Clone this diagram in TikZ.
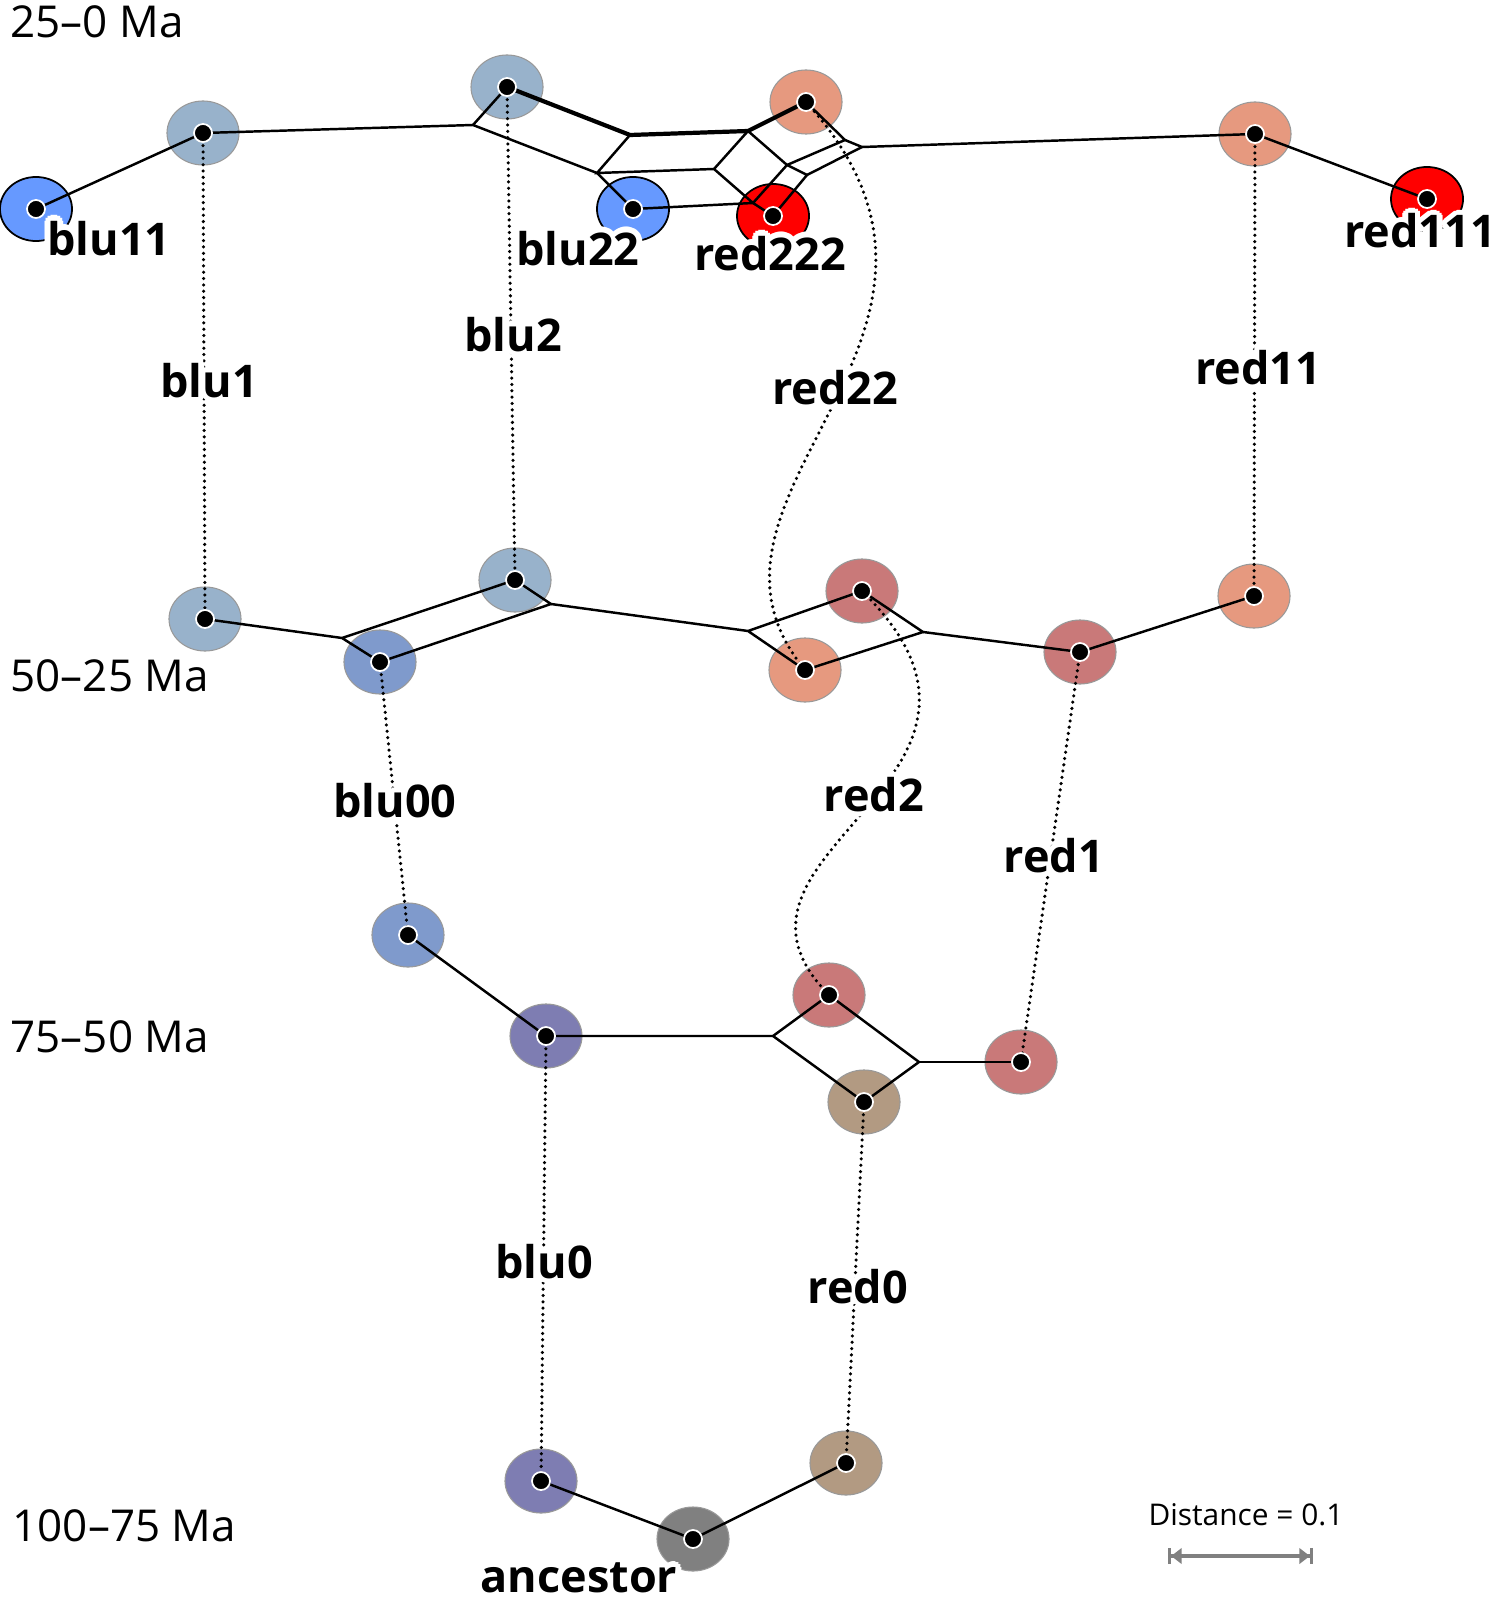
\documentclass[tikz,border=0pt]{standalone}
\usepackage{fontspec}
\setmainfont{Open Sans}
\usepackage[copies]{contour}
\contourlength{1.6pt}
\contournumber{12}
\usetikzlibrary{shapes.geometric,arrows.meta}

\definecolor{brightblue}{HTML}{6699FF}
\definecolor{paleblue}{HTML}{98B2CB}
\definecolor{midblue}{HTML}{7F9ACC}
\definecolor{bluviolet}{HTML}{7E7DB2}
\definecolor{ancgray}{HTML}{808080}
\definecolor{tawny}{HTML}{B29A82}
\definecolor{rose}{HTML}{C97979}
\definecolor{salmon}{HTML}{E6997F}
\definecolor{brightred}{HTML}{FF0000}

\tikzset{
  taxon/.style={ellipse,minimum width=0.72cm,minimum height=0.64cm,inner sep=0pt,draw=black!40,line width=0.3pt},
  leaf/.style={taxon,draw=black,line width=0.5pt},
  edge/.style={line width=0.7pt},
  heavy/.style={line width=1.2pt},
  lineage/.style={line width=1pt,dash pattern=on 0pt off 1.8pt,line cap=round},
  lab/.style={font=\fontsize{12.8}{15}\selectfont\bfseries,anchor=base,inner sep=0pt},
  era/.style={font=\fontsize{12.5}{15}\selectfont,anchor=base west,inner sep=0pt},
  scalebar/.style={ancgray,line width=0.9pt,{Bar[width=4.6pt]Triangle[length=3pt,width=4.4pt]}-{Triangle[length=3pt,width=4.4pt]Bar[width=4.6pt]}}
}

\begin{document}
\begin{tikzpicture}[x=0.01cm,y=-0.01cm]

\fill[white](0,0) rectangle (1499,1600);
\useasboundingbox(0,0) rectangle (1499,1600);

\node[leaf,fill=brightblue](blu11) at (36,209){};
\node[taxon,fill=paleblue](blu1t) at (203,133){};
\node[taxon,fill=paleblue](blu2t) at (507,87){};
\node[leaf,fill=brightblue](blu22) at (633,209){};
\node[leaf,fill=brightred](red222) at (773,216){};
\node[taxon,fill=salmon](red22t) at (806,102){};
\node[taxon,fill=salmon](red11t) at (1255,134){};
\node[leaf,fill=brightred](red111) at (1427,199){};

\node[taxon,fill=paleblue](blu1b) at (205,619){};
\node[taxon,fill=paleblue](blu2b) at (515,580){};
\node[taxon,fill=midblue](blu00t) at (380,662){};
\node[taxon,fill=rose](red2t) at (862,591){};
\node[taxon,fill=salmon](red22b) at (805,670){};
\node[taxon,fill=rose](red1t) at (1080,652){};
\node[taxon,fill=salmon](red11b) at (1254,596){};

\node[taxon,fill=midblue](blu00b) at (408,935){};
\node[taxon,fill=bluviolet](blu0t) at (546,1036){};
\node[taxon,fill=rose](red2b) at (829,995){};
\node[taxon,fill=tawny](red0t) at (864,1102){};
\node[taxon,fill=rose](red1b) at (1021,1062){};

\node[taxon,fill=bluviolet](blu0b) at (541,1481){};
\node[taxon,fill=ancgray](anc) at (693,1539){};
\node[taxon,fill=tawny](red0b) at (846,1463){};

\coordinate(jA) at (473,125);
\coordinate(jB) at (597,173);
\coordinate(jC) at (630,135);
\coordinate(jD) at (748,131);
\coordinate(jE) at (714,169);
\coordinate(jK) at (753,203);
\coordinate(jI) at (787,165);
\coordinate(jJ) at (807,175);
\coordinate(jG) at (845,140);
\coordinate(jH) at (862,147);
\coordinate(jL) at (342,638);
\coordinate(jM) at (551,604);
\coordinate(jN) at (748,631);
\coordinate(jO) at (923,632);
\coordinate(jP) at (773,1036);
\coordinate(jQ) at (919,1062);

\draw[edge](blu11.center)--(blu1t.center)--(jA);
\draw[edge](jA)--(blu2t.center);
\draw[edge](jA)--(jB);
\draw[heavy](blu2t.center)--(jC)--(jD)--(red22t.center);
\draw[edge](jC)--(jB)--(jE)--(jD);
\draw[edge](jB)--(blu22.center)--(jK)--(jE);
\draw[edge](jD)--(jI)--(jK);
\draw[edge](jK)--(red222.center)--(jJ)--(jI);
\draw[edge](red22t.center)--(jG)--(jI);
\draw[edge](jG)--(jH)--(jJ);
\draw[edge](jH)--(red11t.center)--(red111.center);

\draw[edge](blu1b.center)--(jL)--(blu2b.center)--(jM)--(blu00t.center)--(jL);
\draw[edge](jM)--(jN)--(red2t.center)--(jO)--(red22b.center)--(jN);
\draw[edge](jO)--(red1t.center)--(red11b.center);

\draw[edge](blu00b.center)--(blu0t.center)--(jP)--(red2b.center)--(jQ)--(red0t.center)--(jP);
\draw[edge](jQ)--(red1b.center);

\draw[edge](blu0b.center)--(anc.center)--(red0b.center);

\draw[lineage](blu1t.center)--(blu1b.center);
\draw[lineage](blu2t.center)--(blu2b.center);
\draw[lineage](red22t.center) .. controls (1020,337) and (660,494) .. (red22b.center);
\draw[lineage](red11t.center)--(red11b.center);
\draw[lineage](blu00t.center)--(blu00b.center);
\draw[lineage](red2t.center) .. controls (1055,781) and (687,851) .. (red2b.center);
\draw[lineage](red1t.center)--(red1b.center);
\draw[lineage](blu0t.center)--(blu0b.center);
\draw[lineage](red0t.center)--(red0b.center);

\foreach \n in {blu11,blu1t,blu2t,blu22,red222,red22t,red11t,red111,blu1b,blu2b,blu00t,red2t,red22b,red1t,red11b,blu00b,blu0t,red2b,red0t,red1b,blu0b,anc,red0b}
  \filldraw[fill=black,draw=white,line width=0.5pt](\n.center) circle(0.09cm);

\node[lab](lblu11) at (109,255){\contour{white}{blu11}};
\node[lab](lblu22) at (578,265){\contour{white}{blu22}};
\node[lab](lred222) at (770,270){\contour{white}{red222}};
\node[lab](lred111) at (1420,248){\contour{white}{red111}};
\node[lab](lblu1) at (209,397){\contour{white}{blu1}};
\node[lab](lblu2) at (513,351){\contour{white}{blu2}};
\node[lab](lred22) at (835,404){\contour{white}{red22}};
\node[lab](lred11) at (1258,384){\contour{white}{red11}};
\node[lab](lblu00) at (395,817){\contour{white}{blu00}};
\node[lab](lred2) at (874,811){\contour{white}{red2}};
\node[lab](lred1) at (1054,872){\contour{white}{red1}};
\node[lab](lblu0) at (544,1278){\contour{white}{blu0}};
\node[lab](lred0) at (858,1303){\contour{white}{red0}};
\node[lab](lanc) at (579,1592){\contour{white}{ancestor}};

\node[era](era1) at (10,38){25--0 Ma};
\node[era](era2) at (10,691){50--25 Ma};
\node[era](era3) at (10,1052){75--50 Ma};
\node[era](era4) at (12,1541){100--75 Ma};

\node[font=\fontsize{8.5}{10}\selectfont,anchor=base,inner sep=0pt](dist) at (1246,1525){Distance = 0.1};
\coordinate(sbl) at (1168,1556);
\coordinate(sbr) at (1313,1556);
\draw[scalebar](sbl)--(sbr);

\end{tikzpicture}
\end{document}
